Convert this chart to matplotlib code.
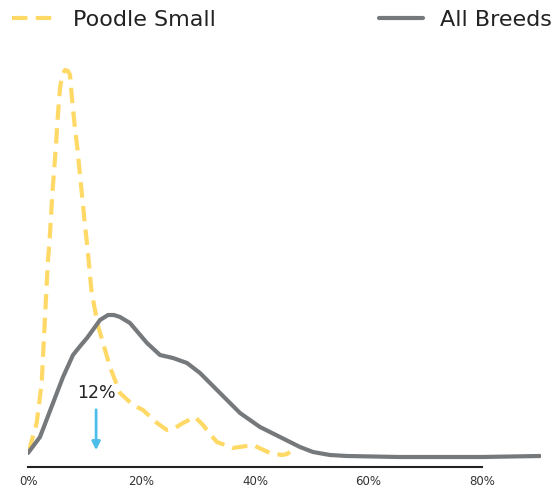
import matplotlib
matplotlib.use("Agg")
import matplotlib.pyplot as plt

# Data (x in %, y = relative density)
poodle_x = [0, 0.35, 1.53, 2.41, 3.0, 3.52, 3.75, 4.28, 4.93, 5.23, 5.64, 6.0, 6.52, 7.05, 7.4,
            7.7, 8.16, 8.69, 9.16, 9.57, 10.04, 10.52, 11.22, 12.39, 13.22, 14.45, 16.21, 18.5,
            20.26, 22.73, 24.49, 25.9, 27.31, 29.43, 30.84, 32.07, 33.3, 36.12, 39.65, 42.64,
            44.76, 45.64, 46.17]
poodle_y = [0.17, 0.20, 0.44, 0.84, 1.50, 2.07, 2.22, 2.72, 3.22, 3.49, 3.79, 3.91, 3.97, 3.96, 3.92,
            3.72, 3.45, 3.19, 2.92, 2.69, 2.42, 2.17, 1.74, 1.40, 1.24, 1.00, 0.74, 0.62,
            0.57, 0.44, 0.37, 0.39, 0.44, 0.50, 0.42, 0.33, 0.25, 0.19, 0.22, 0.14,
            0.12, 0.13, 0.15]
all_x = [0, 2.11, 4.41, 6.17, 7.93, 9.2, 10.4, 12.69, 14.1, 15.15, 16.21, 17.97, 20.97, 23.26, 25.55,
         28.02, 30.31, 33.83, 37.36, 40.88, 44.41, 47.93, 50.22, 53.2, 56.2, 65.5, 80.0, 90.2]
all_y = [0.14, 0.30, 0.64, 0.90, 1.12, 1.21, 1.29, 1.47, 1.52, 1.52, 1.50, 1.44, 1.24, 1.12, 1.09,
         1.04, 0.94, 0.74, 0.54, 0.40, 0.30, 0.20, 0.15, 0.12, 0.11, 0.10, 0.10, 0.11]
xticks = [0, 20, 40, 60, 80]
xtick_labels = ["0%", "20%", "40%", "60%", "80%"]
marker_value = 12
marker_label = "12%"

W, H = 559, 491
fig = plt.figure(figsize=(W / 100, H / 100), dpi=100)
ax = fig.add_axes([28 / W, 24 / H, (541 - 28) / W, 417 / H])

yellow = "#FFD966"
gray = "#76797C"
blue = "#4DBEEA"

l1, = ax.plot(poodle_x, poodle_y, color=yellow, lw=3, dashes=(3.7, 2.0),
              dash_capstyle="butt", solid_joinstyle="round", label="Poodle Small")
l2, = ax.plot(all_x, all_y, color=gray, lw=3, solid_capstyle="round",
              solid_joinstyle="round", label="All Breeds")

ax.set_xlim(0, 90.4)
ax.set_ylim(0, 4.17)
for s in ["left", "right", "top"]:
    ax.spines[s].set_visible(False)
ax.spines["bottom"].set_bounds(0, 80)
ax.spines["bottom"].set_color("#222222")
ax.spines["bottom"].set_linewidth(1.5)
ax.set_yticks([])
ax.set_xticks(xticks)
ax.set_xticklabels(xtick_labels, fontsize=8.5, color="#333333")
ax.tick_params(axis="x", length=0, pad=6)

ax.annotate("", xy=(marker_value, 0.14), xytext=(marker_value, 0.60),
            arrowprops=dict(arrowstyle="-|>", color=blue, lw=2, mutation_scale=12))
ax.text(marker_value, 0.65, marker_label, ha="center", va="bottom", fontsize=12.5, color="#222222")

fig.legend(handles=[l1, l2], loc="center left", bbox_to_anchor=(12 / W, 1 - 20 / H),
           ncol=2, frameon=False, fontsize=16, borderpad=0, borderaxespad=0,
           handlelength=2.0, handletextpad=0.73, columnspacing=7.35, labelcolor="#222222")

fig.savefig("out.png", dpi=100)
